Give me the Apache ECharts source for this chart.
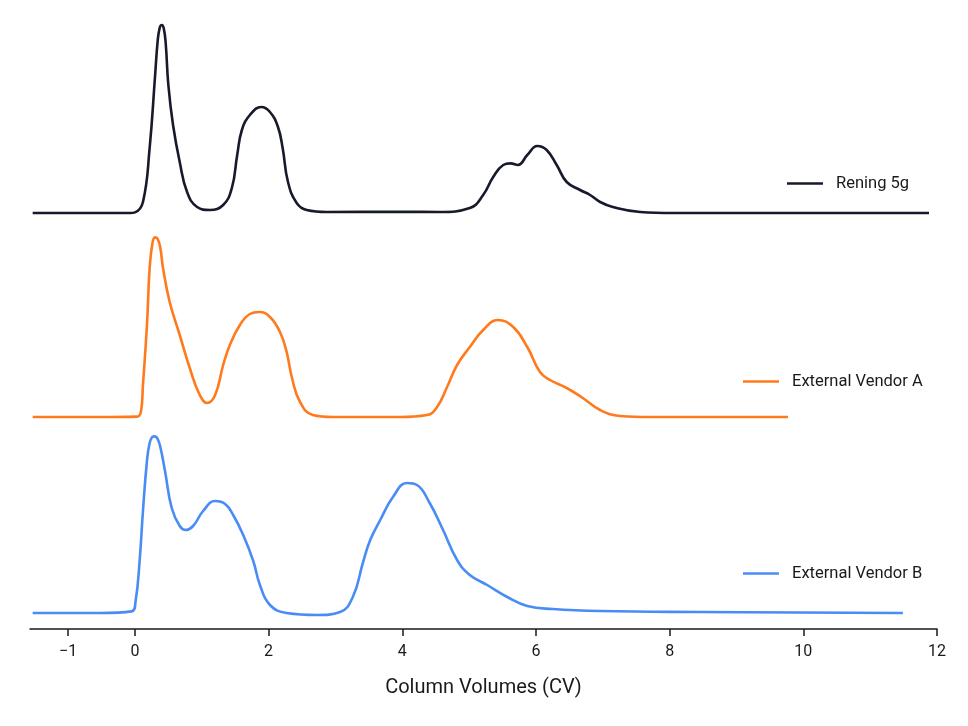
<!DOCTYPE html>
<html>
<head>
<meta charset="utf-8">
<script src="https://cdn.jsdelivr.net/npm/echarts@6/dist/echarts.min.js"></script>
<style>
  html, body { margin: 0; padding: 0; background: #ffffff; }
  #chart { width: 968px; height: 726px; }
</style>
</head>
<body>
<div id="chart"></div>
<script>
// ---- data (x in column volumes, y in relative absorbance) ----
var seriesNames = ['Rening 5g', 'External Vendor A', 'External Vendor B'];
var tickValues = [-1, 0, 2, 4, 6, 8, 10, 12];

var reningData = [
  [-1.53, 0], [-0.52, 0], [-0.07, 0], [0.0, 0.3], [0.12, 5.5], [0.22, 32.5], [0.30, 68],
  [0.34, 86], [0.37, 92.5], [0.40, 94], [0.43, 92.5], [0.46, 85], [0.50, 64], [0.57, 44],
  [0.67, 25.5], [0.78, 10.5], [0.93, 3], [1.12, 1.5], [1.32, 4], [1.45, 12.5], [1.53, 29],
  [1.60, 41.5], [1.72, 49], [1.89, 53], [2.02, 50.5], [2.14, 43], [2.21, 32.5], [2.29, 15.5],
  [2.42, 5], [2.57, 1.5], [2.87, 0.5], [3.97, 0.6], [4.56, 0.5], [5.01, 2.5], [5.21, 9],
  [5.36, 18], [5.51, 24], [5.62, 24.8], [5.73, 24], [5.87, 29], [6.02, 33.5], [6.16, 31.5],
  [6.31, 24], [6.46, 15.5], [6.66, 11.5], [6.81, 9], [6.96, 5.5], [7.15, 3], [7.56, 0.5],
  [8.05, 0], [11.88, 0]
];

var vendorAData = [
  [-1.53, 0], [-0.52, 0], [0.03, 0.2], [0.09, 2.7], [0.12, 16], [0.18, 46], [0.22, 74.5],
  [0.26, 86.5], [0.30, 89.8], [0.34, 89], [0.38, 84.5], [0.42, 74.5], [0.52, 57.5], [0.67, 41],
  [0.82, 24.5], [0.97, 11], [1.08, 7], [1.20, 11], [1.32, 26], [1.42, 36], [1.57, 46],
  [1.72, 51.5], [1.86, 52.5], [2.02, 50], [2.17, 42.5], [2.27, 32.5], [2.35, 19.5], [2.47, 7.5],
  [2.66, 1], [2.96, 0], [3.97, 0], [4.37, 1], [4.52, 5], [4.67, 15], [4.82, 26], [5.01, 35],
  [5.21, 43.5], [5.43, 48.5], [5.66, 45], [5.87, 35], [6.06, 22.5], [6.21, 18.5], [6.46, 14.5],
  [6.70, 9.5], [6.96, 3.5], [7.26, 0.5], [7.71, 0], [9.77, 0]
];

var vendorBData = [
  [-1.53, 0], [-0.52, 0], [-0.05, 0.8], [0.01, 6], [0.07, 26], [0.12, 51], [0.18, 76],
  [0.22, 85], [0.26, 88], [0.30, 88.3], [0.34, 87], [0.38, 83], [0.45, 71], [0.55, 52.5],
  [0.67, 43.5], [0.76, 41.5], [0.87, 43.5], [1.02, 51], [1.20, 56], [1.35, 54.5], [1.47, 49],
  [1.62, 39], [1.77, 26], [1.87, 14], [2.02, 4], [2.27, 0], [2.72, -1], [3.07, 0.5], [3.26, 8],
  [3.41, 25], [3.52, 36.5], [3.67, 46.5], [3.86, 58], [4.07, 65], [4.22, 64], [4.41, 55],
  [4.61, 41.5], [4.82, 26.5], [5.01, 19], [5.27, 14], [5.57, 8], [5.87, 3.5], [6.25, 2],
  [6.96, 1], [8.45, 0.5], [11.49, 0]
];

var colors = ['#161a2b', '#ff7a1c', '#4a8cf5'];

// ---- chart ----
var chart = echarts.init(document.getElementById('chart'), null, { renderer: 'canvas' });
var fontFamily = 'Roboto, "Noto Sans", sans-serif';
var xMin = -1.57, xMax = 12;

function hiddenX(gi) {
  return { type: 'value', gridIndex: gi, min: xMin, max: xMax, show: false };
}
function hiddenY(gi, lo) {
  return { type: 'value', gridIndex: gi, min: lo, max: 100, show: false };
}
function legendFor(i, left, top) {
  return {
    data: [seriesNames[i]], left: left, top: top, icon: 'rect',
    itemWidth: 36, itemHeight: 2.5, padding: 0,
    textStyle: { fontFamily: fontFamily, fontSize: 16.5, color: '#1a1a1a', padding: [0, 0, 0, 8] }
  };
}
var lineSeries = function (i, data) {
  return {
    name: seriesNames[i], type: 'line', xAxisIndex: i, yAxisIndex: i, data: data,
    smooth: 0.45, showSymbol: false, symbol: 'none', clip: false,
    lineStyle: { color: colors[i], width: 2.6 }, itemStyle: { color: colors[i] }
  };
};

chart.setOption({
  animation: false,
  backgroundColor: '#ffffff',
  grid: [
    { left: 30, right: 31, top: 13, height: 200 },
    { left: 30, right: 31, top: 217, height: 200 },
    { left: 30, right: 31, top: 413, height: 216 }
  ],
  xAxis: [
    hiddenX(0), hiddenX(1),
    {
      type: 'value', gridIndex: 2, min: xMin, max: xMax,
      name: 'Column Volumes (CV)', nameLocation: 'middle', nameGap: 49,
      nameTextStyle: { fontFamily: fontFamily, fontSize: 20, color: '#1a1a1a' },
      splitLine: { show: false },
      axisLine: { show: true, onZero: false, lineStyle: { color: '#1a1a1a', width: 1.5 } },
      axisTick: { show: true, length: 7, customValues: tickValues, lineStyle: { color: '#1a1a1a', width: 1.5 } },
      axisLabel: {
        customValues: tickValues, margin: 15, fontFamily: fontFamily, fontSize: 16, color: '#1a1a1a',
        formatter: function (v) { return v < 0 ? '\u2212' + Math.abs(v) : String(v); }
      }
    }
  ],
  yAxis: [hiddenY(0, 0), hiddenY(1, 0), hiddenY(2, -8)],
  legend: [
    legendFor(0, 787, 175),
    legendFor(1, 743, 373),
    legendFor(2, 743, 565)
  ],
  series: [
    lineSeries(0, reningData),
    lineSeries(1, vendorAData),
    lineSeries(2, vendorBData)
  ]
});
</script>
</body>
</html>
